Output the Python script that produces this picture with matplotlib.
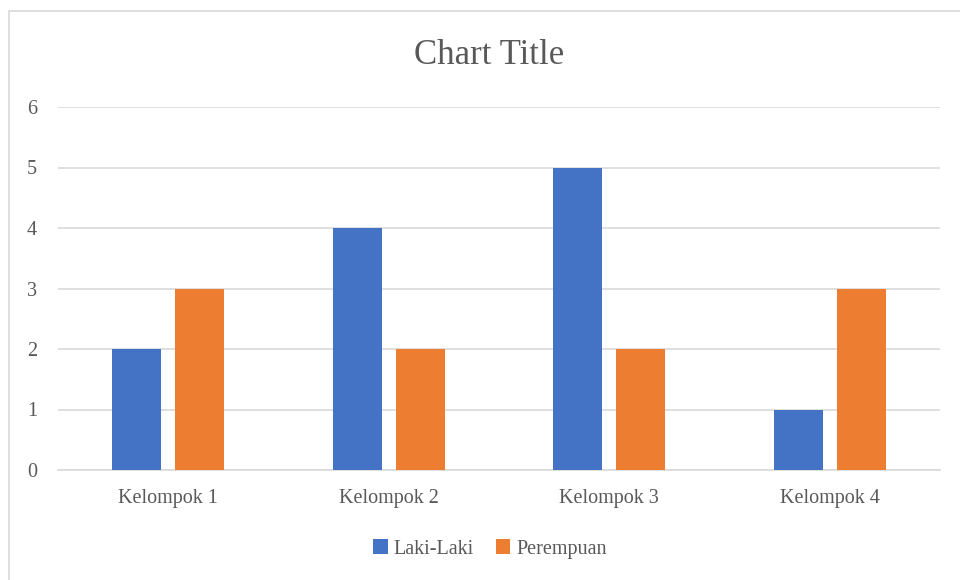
import matplotlib
matplotlib.use("Agg")
import matplotlib.pyplot as plt
import numpy as np
from matplotlib.patches import Rectangle

categories = ["Kelompok 1", "Kelompok 2", "Kelompok 3", "Kelompok 4"]
laki = [2, 4, 5, 1]
perempuan = [3, 2, 2, 3]
series_names = ["Laki-Laki", "Perempuan"]
yticks = [0, 1, 2, 3, 4, 5, 6]

plt.rcParams['font.family'] = ['Liberation Serif', 'DejaVu Serif']
txt = '#595959'

fig = plt.figure(figsize=(9.6, 5.8), dpi=100)
fig.patches.append(Rectangle((9/960, -0.1), 1.2, 1 - 11/580 + 0.1, transform=fig.transFigure,
                             fill=False, edgecolor='#D9D9D9', linewidth=1.2))
ax = fig.add_axes([58/960, 1 - 470/580, 882/960, 363/580])

x = np.arange(len(categories))
w = 0.222
off = 0.143
ax.bar(x - off, laki, w, color='#4472C4', label=series_names[0], zorder=3)
ax.bar(x + off, perempuan, w, color='#ED7D31', label=series_names[1], zorder=3)

ax.set_xlim(-0.5, len(categories) - 0.5)
ax.set_ylim(0, 6)
ax.set_yticks(yticks)
ax.set_xticks(x)
ax.set_xticklabels(categories)
ax.grid(axis='y', color='#D9D9D9', linewidth=1.2, zorder=0)
for s in ['top', 'right', 'left']:
    ax.spines[s].set_visible(False)
ax.spines['bottom'].set_color('#D9D9D9')
ax.spines['bottom'].set_linewidth(1.2)
ax.tick_params(axis='both', length=0, labelsize=14.5, colors=txt)
ax.tick_params(axis='y', pad=15)
ax.tick_params(axis='x', pad=14)

fig.text(489/960, 1 - 55/580, "Chart Title", ha='center', va='center', fontsize=25, color=txt)

leg = fig.legend(loc='center', bbox_to_anchor=(490/960, 1 - 549/580), ncol=2, frameon=False,
                 fontsize=14.5, handlelength=0.7, handleheight=0.7, handletextpad=0.3,
                 columnspacing=1.1)
for t in leg.get_texts():
    t.set_color(txt)

fig.savefig("out.png", dpi=100)
